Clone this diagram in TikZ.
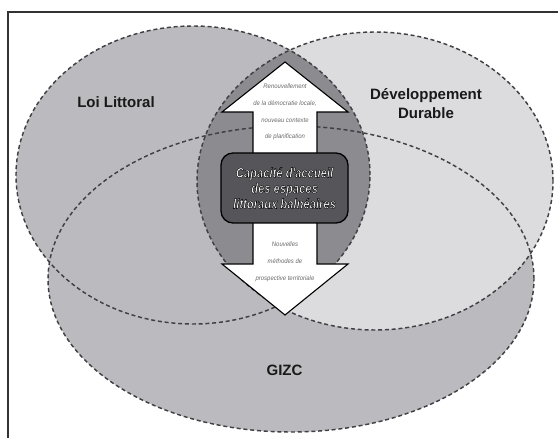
\documentclass[tikz,border=0pt]{standalone}
\usepackage{fontspec}
\setmainfont{Liberation Sans}
\newfontfamily\boxfont[FakeStretch=0.8]{Liberation Sans Bold Italic}
\newfontfamily\smallfont[FakeStretch=0.92]{Liberation Sans}
\definecolor{medgray}{HTML}{BBBBBF}
\definecolor{lightgray2}{HTML}{DCDCDE}
\definecolor{lensgray}{HTML}{8C8C90}
\definecolor{boxgray}{HTML}{55555A}
\definecolor{dashgray}{HTML}{404044}
\definecolor{framegray}{HTML}{333333}
\definecolor{smalltext}{HTML}{6A6A6A}
\newcommand\outlined[1]{\special{pdf:literal direct 0 G 2 Tr 0.42 w}#1\special{pdf:literal direct 0 Tr}}
\tikzset{
  venn/.style={draw=dashgray, line width=1.45pt, dash pattern=on 4pt off 2.8pt},
  biglabel/.style={font=\bfseries\fontsize{15}{19}\selectfont, text=black!90, align=center, inner sep=0pt},
  smalllabel/.style={font=\smallfont\itshape\fontsize{6.5}{16.7}\selectfont, text=smalltext, align=center, inner sep=0pt},
  centrebox/.style={draw=black, line width=1.3pt, fill=boxgray, rounded corners=12pt,
    minimum width=127pt, minimum height=70pt, inner sep=0pt, align=center,
    font=\boxfont\fontsize{14}{15.5}\selectfont, text=white},
  arrowshape/.style={draw=black, line width=1.1pt, fill=white, line join=miter}
}
\begin{document}
\begin{tikzpicture}[x=1pt,y=-1pt]
\useasboundingbox (0,0) rectangle (558,438);
\fill[white] (0,0) rectangle (558,438);
% frame
\draw[framegray, line width=1.2pt] (8,438) -- (8,12) -- (558,12);
% fills
\fill[medgray] (291,279) ellipse [x radius=243pt, y radius=153pt];
\fill[medgray] (193,175) ellipse [x radius=177pt, y radius=149pt];
\fill[lightgray2] (375,181) ellipse [x radius=178pt, y radius=149pt];
\begin{scope}
  \clip (193,175) ellipse [x radius=177pt, y radius=149pt];
  \fill[lensgray] (375,181) ellipse [x radius=178pt, y radius=149pt];
\end{scope}
% dashed outlines
\draw[venn] (291,279) ellipse [x radius=243pt, y radius=153pt];
\draw[venn] (193,175) ellipse [x radius=177pt, y radius=149pt];
\draw[venn] (375,181) ellipse [x radius=178pt, y radius=149pt];
% double arrow
\draw[arrowshape] (285,62) -- (348,112) -- (317,112) -- (317,264) -- (348,264)
  -- (285,315) -- (222,264) -- (253,264) -- (253,112) -- (222,112) -- cycle;
% central box
\node[centrebox] (box) at (284.5,188) {\outlined{Capacité d'accueil}\\\outlined{des espaces}\\\outlined{littoraux balnéaires}};
% arrow texts
\node[smalllabel] (up) at (285,112) {Renouvellement\\de la démocratie locale,\\nouveau contexte\\de planification};
\node[smalllabel] (down) at (285,262) {Nouvelles\\méthodes de\\prospective territoriale};
% labels
\node[biglabel] (loi) at (116,102) {Loi Littoral};
\node[biglabel] (dd) at (426,103.5) {Développement\\Durable};
\node[biglabel] (gizc) at (284.5,370.5) {GIZC};
\end{tikzpicture}
\end{document}
